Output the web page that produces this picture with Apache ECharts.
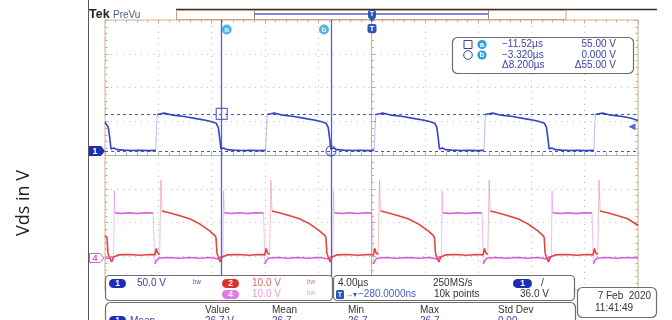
<!DOCTYPE html>
<html>
<head>
<meta charset="utf-8">
<script src="https://cdn.jsdelivr.net/npm/echarts@6/dist/echarts.min.js"></script>
<style>
  html, body { margin: 0; padding: 0; background: #fff; }
  #chart { width: 672px; height: 320px; }
</style>
</head>
<body>
<div id="chart"></div>
<script>
// time in µs from screen centre (4 µs/div), volts per channel
// null = fast edge (drawn faint, like the scope does)
const ch1Trace = [
  [-20.0, 42.5], [-19.85, 41], [-19.75, 35], [-19.65, 20], [-19.55, 3], [-19.35, 4.5], [-19.1, 2], [-18.6, 1.2], [-17.95, 0.6], [-17.35, 1.1], [-16.75, 0.5], [-16.2, 0.9],
  null,
  [-16.08, 54], [-16.0, 56.5], [-15.8, 55], [-15.55, 56], [-15.05, 53.5], [-14.05, 51], [-13.05, 47.5], [-12.45, 45.5], [-12.05, 43.5], [-11.65, 41], [-11.5, 35], [-11.4, 20], [-11.3, 3], [-11.1, 4.5], [-10.85, 2], [-10.35, 1.2], [-9.7, 0.6], [-9.1, 1.1], [-8.5, 0.5], [-7.95, 0.9],
  null,
  [-7.83, 54], [-7.75, 56.5], [-7.55, 55], [-7.3, 56], [-6.8, 53.5], [-5.8, 51], [-4.8, 47.5], [-4.2, 45.5], [-3.8, 43.5], [-3.4, 41], [-3.25, 35], [-3.15, 20], [-3.05, 3], [-2.85, 4.5], [-2.6, 2], [-2.1, 1.2], [-1.45, 0.6], [-0.85, 1.1], [-0.25, 0.5], [0.2, 0.9],
  null,
  [0.32, 54], [0.4, 56.5], [0.6, 55], [0.85, 56], [1.35, 53.5], [2.35, 51], [3.35, 47.5], [3.95, 45.5], [4.35, 43.5], [4.75, 41], [4.9, 35], [5.0, 20], [5.1, 3], [5.3, 4.5], [5.55, 2], [6.05, 1.2], [6.7, 0.6], [7.3, 1.1], [7.9, 0.5], [8.43, 0.9],
  null,
  [8.55, 54], [8.63, 56.5], [8.83, 55], [9.08, 56], [9.58, 53.5], [10.58, 51], [11.58, 47.5], [12.18, 45.5], [12.58, 43.5], [12.98, 41], [13.13, 35], [13.23, 20], [13.33, 3], [13.53, 4.5], [13.78, 2], [14.28, 1.2], [14.9, 0.6], [15.5, 1.1], [16.1, 0.5], [16.68, 0.9],
  null,
  [16.8, 54], [16.88, 56.5], [17.08, 55], [17.33, 56], [17.83, 53.5], [18.83, 51], [19.5, 48.5], [20.0, 45]
];

const ch2Trace = [
  [-20.0, 6.6], [-19.85, 6.0], [-19.78, 1.5], [-19.7, 0.5], [-19.5, -1.2], [-19.35, 0.3], [-19.0, 0.9], [-18.2, 1.0], [-17.4, 0.8], [-16.6, 1.0], [-16.25, 0.9], [-16.15, 2.8], [-16.05, 1.5], [-15.9, 1.0],
  null, [-15.8, 23], null,
  [-15.72, 13.9], [-15.18, 13.4], [-14.44, 12.6], [-13.65, 11.6], [-12.9, 10.1], [-12.17, 8.1], [-11.75, 6.6], [-11.67, 6.0], [-11.6, 1.5], [-11.52, 0.5], [-11.35, -1.2], [-11.2, 0.3], [-10.85, 0.9], [-10.0, 1.0], [-9.2, 0.8], [-8.4, 1.0], [-8.0, 0.9], [-7.9, 2.8], [-7.8, 1.5], [-7.65, 1.0],
  null, [-7.55, 23], null,
  [-7.47, 13.9], [-6.93, 13.4], [-6.19, 12.6], [-5.4, 11.6], [-4.65, 10.1], [-3.92, 8.1], [-3.5, 6.6], [-3.42, 6.0], [-3.35, 1.5], [-3.27, 0.5], [-3.1, -1.2], [-2.95, 0.3], [-2.6, 0.9], [-1.8, 1.0], [-1.0, 0.8], [-0.2, 1.0], [0.15, 0.9], [0.25, 2.8], [0.35, 1.5], [0.5, 1.0],
  null, [0.6, 23], null,
  [0.68, 13.9], [1.22, 13.4], [1.96, 12.6], [2.75, 11.6], [3.5, 10.1], [4.23, 8.1], [4.65, 6.6], [4.73, 6.0], [4.8, 1.5], [4.88, 0.5], [5.05, -1.2], [5.2, 0.3], [5.55, 0.9], [6.35, 1.0], [7.15, 0.8], [7.95, 1.0], [8.38, 0.9], [8.48, 2.8], [8.58, 1.5], [8.73, 1.0],
  null, [8.83, 23], null,
  [8.91, 13.9], [9.45, 13.4], [10.19, 12.6], [10.98, 11.6], [11.73, 10.1], [12.46, 8.1], [12.88, 6.6], [12.96, 6.0], [13.03, 1.5], [13.11, 0.5], [13.28, -1.2], [13.43, 0.3], [13.78, 0.9], [14.6, 1.0], [15.4, 0.8], [16.2, 1.0], [16.63, 0.9], [16.73, 2.8], [16.83, 1.5], [16.98, 1.0],
  null, [17.08, 23], null,
  [17.16, 13.9], [17.7, 13.4], [18.44, 12.6], [19.23, 11.6], [20.0, 9.6]
];

const ch4Trace = [
  [-20.0, 0.0], [-19.7, -0.2], [-19.5, 0.4], [-19.35, 0.1],
  null, [-19.3, 19.9], null,
  [-19.25, 13.4], [-18.8, 13.2], [-18.2, 13.4], [-17.6, 13.2], [-17.0, 13.4], [-16.4, 13.3],
  null,
  [-16.25, -1.8], [-16.15, -0.8], [-16.0, -0.1], [-15.3, 0.1], [-14.5, -0.1], [-13.7, 0.1], [-12.9, -0.1], [-12.1, 0.1], [-11.45, -0.3], [-11.3, 0.4], [-11.15, 0.1],
  null, [-11.1, 19.9], null,
  [-11.05, 13.4], [-10.5, 13.2], [-9.9, 13.4], [-9.3, 13.2], [-8.7, 13.4], [-8.1, 13.3],
  null,
  [-8.0, -1.8], [-7.9, -0.8], [-7.75, -0.1], [-7.1, 0.1], [-6.3, -0.1], [-5.5, 0.1], [-4.7, -0.1], [-3.9, 0.1], [-3.2, -0.3], [-3.05, 0.4], [-2.9, 0.1],
  null, [-2.85, 19.9], null,
  [-2.8, 13.4], [-2.25, 13.2], [-1.65, 13.4], [-1.05, 13.2], [-0.45, 13.4], [0.05, 13.3],
  null,
  [0.15, -1.8], [0.25, -0.8], [0.4, -0.1], [1.1, 0.1], [1.9, -0.1], [2.7, 0.1], [3.5, -0.1], [4.3, 0.1], [4.95, -0.3], [5.1, 0.4], [5.25, 0.1],
  null, [5.3, 19.9], null,
  [5.35, 13.4], [5.9, 13.2], [6.5, 13.4], [7.1, 13.2], [7.7, 13.4], [8.3, 13.3],
  null,
  [8.4, -1.8], [8.5, -0.8], [8.65, -0.1], [9.3, 0.1], [10.1, -0.1], [10.9, 0.1], [11.7, -0.1], [12.5, 0.1], [13.2, -0.3], [13.35, 0.4], [13.5, 0.1],
  null, [13.55, 19.9], null,
  [13.6, 13.4], [14.15, 13.2], [14.75, 13.4], [15.35, 13.2], [15.95, 13.4], [16.55, 13.3],
  null,
  [16.65, -1.8], [16.75, -0.8], [16.9, -0.1], [17.6, 0.1], [18.4, -0.1], [19.2, 0.1], [20.0, 0.0]
];

// cursors (readout time, volts) and trigger
const cursorNames = ['a', 'b'];
const cursorTimes = [-11.52, -3.32];
const cursorVolts = [55.0, 0.0];
const horizPosUs = 0.28;      // screen centre vs trigger
const trigLevel = 36.0;

// vertical settings: volts/div and position (div)
const ch1Scale = 50, ch1Pos = 0.12;
const ch24Scale = 10, ch24Pos = -3.05;

const chLabels = ['50.0 V', '10.0 V', '10.0 V'];
const acqLabels = ['4.00µs', '250MS/s', '−280.0000ns', '10k points', trigLevel.toFixed(1) + ' V'];
const dateLabels = ['7 Feb  2020', '11:41:49'];
const measHeaders = ['Value', 'Mean', 'Min', 'Max', 'Std Dev'];
const measRow = ['26.7 V', '26.7', '26.7', '26.7', '0.00'];

function toLine(arr) {
  const out = [];
  arr.forEach((p, i) => {
    out.push(p === null ? [arr[i - 1][0], '-'] : p);
  });
  return out;
}
// fast edges: join the points on both sides of each break
function edges(arr) {
  const out = [];
  arr.forEach((p, i) => {
    if (p === null && arr[i - 1] && arr[i + 1]) {
      out.push(arr[i - 1], arr[i + 1], [arr[i + 1][0], '-']);
    }
  });
  return out;
}

const cursorX = cursorTimes.map(t => t + horizPosUs);
const fmtT = (t, d) => (t < 0 ? '−' : '') + Math.abs(t).toFixed(d) + 'µs';

const chart = echarts.init(document.getElementById('chart'));

const FONT = '"Liberation Sans", Arial, sans-serif';
const TXT = '#3b3fa6';
const BORDER = '#c9ab90';
const GRIDC = '#c2c2c2';
const CENTER = '#b3b3b3';

function text(x, y, s, fill, size, align, weight) {
  return {
    type: 'text', x: x, y: y, z: 60,
    style: {
      text: s, fill: fill || '#333',
      font: (weight || 'normal') + ' ' + (size || 10) + 'px ' + FONT,
      textAlign: align || 'left', align: align || 'left',
      textVerticalAlign: 'middle', verticalAlign: 'middle'
    }
  };
}
function box(x, y, w, h, r) {
  return {
    type: 'rect', z: 55,
    shape: { x: x, y: y, width: w, height: h, r: r || 4 },
    style: { fill: '#fff', stroke: '#6e6e6e', lineWidth: 1.2 }
  };
}
function pill(x, y, w, label, fill) {
  return [
    { type: 'rect', z: 58, shape: { x: x, y: y, width: w, height: 9, r: 4.5 }, style: { fill: fill } },
    text(x + w / 2, y + 4.7, label, '#fff', 8.5, 'center', 'bold')
  ];
}
function line(x1, y1, x2, y2, stroke, w) {
  return { type: 'line', z: 50, shape: { x1: x1, y1: y1, x2: x2, y2: y2 }, style: { stroke: stroke, lineWidth: w || 1 } };
}

const graphics = [].concat(
  // frame of the screenshot
  line(88.5, 0, 88.5, 320, '#5a5a5a', 1),
  line(176, 9.5, 657, 9.5, '#3b2c25', 1.5),
  { type: 'rect', z: 50, shape: { x: 176.5, y: 10.5, width: 389.5, height: 9 }, style: { fill: 'none', stroke: '#c9a27e', lineWidth: 1 } },
  line(254, 14, 489, 14, '#5866c8', 1.5),
  line(254.5, 10.5, 254.5, 19, '#8a8a8a', 1),
  line(488.5, 10.5, 488.5, 19, '#8a8a8a', 1),
  text(89, 15, 'Tek', '#1e1e1e', 12.5, 'left', 'bold'),
  text(113, 15, 'PreVu', '#4b5a86', 10),
  // trigger position markers
  { type: 'rect', z: 58, shape: { x: 368, y: 10, width: 8, height: 8, r: 2 }, style: { fill: '#2d55b5' } },
  { type: 'polygon', z: 58, shape: { points: [[368, 17], [376, 17], [372, 22]] }, style: { fill: '#2d55b5' } },
  text(372, 14, 'T', '#fff', 7, 'center', 'bold'),
  { type: 'rect', z: 58, shape: { x: 367.5, y: 24, width: 9, height: 9, r: 2 }, style: { fill: '#2d55b5' } },
  text(372, 28.7, 'T', '#fff', 8, 'center', 'bold'),
  // ground markers
  { type: 'polygon', z: 58, shape: { points: [[89, 146], [101, 146], [105, 151], [101, 156], [89, 156]] }, style: { fill: '#1f2fa8' } },
  text(95, 151.3, '1', '#fff', 9, 'center', 'bold'),
  { type: 'polygon', z: 58, shape: { points: [[89.5, 253.5], [100, 253.5], [104, 258], [100, 262.5], [89.5, 262.5]] }, style: { fill: '#fff', stroke: '#d25fd2', lineWidth: 1 } },
  text(95, 258.3, '4', '#d25fd2', 9, 'center', 'bold'),
  // y axis title
  {
    type: 'text', x: 24, y: 203, rotation: Math.PI / 2, z: 60,
    style: {
      text: 'Vds in V', fill: '#222', font: '18px "Open Sans", sans-serif',
      textAlign: 'center', align: 'center', textVerticalAlign: 'middle', verticalAlign: 'middle'
    }
  },
  // cursor readout
  box(452.5, 37.5, 181, 36, 5),
  { type: 'rect', z: 58, shape: { x: 464, y: 40.5, width: 8, height: 8 }, style: { fill: 'none', stroke: TXT, lineWidth: 1 } },
  { type: 'circle', z: 58, shape: { cx: 482, cy: 44.5, r: 4.6 }, style: { fill: '#27a3dc' } },
  text(482, 44.7, 'a', '#fff', 8, 'center', 'bold'),
  { type: 'circle', z: 58, shape: { cx: 468, cy: 55, r: 4.3 }, style: { fill: 'none', stroke: TXT, lineWidth: 1 } },
  { type: 'circle', z: 58, shape: { cx: 482, cy: 55, r: 4.6 }, style: { fill: '#27a3dc' } },
  text(482, 55.2, 'b', '#fff', 8, 'center', 'bold'),
  text(502, 44.5, fmtT(cursorTimes[0], 2), TXT, 10),
  text(502, 55, fmtT(cursorTimes[1], 3), TXT, 10),
  text(502, 65, 'Δ' + fmtT(cursorTimes[1] - cursorTimes[0], 3), TXT, 10),
  text(616, 44.5, cursorVolts[0].toFixed(2) + ' V', TXT, 10, 'right'),
  text(616, 55, cursorVolts[1].toFixed(3) + ' V', TXT, 10, 'right'),
  text(616, 65, 'Δ' + Math.abs(cursorVolts[0] - cursorVolts[1]).toFixed(2) + ' V', TXT, 10, 'right'),
  // channel readout
  box(105.5, 275.5, 227, 25, 4),
  pill(109, 279, 17, '1', '#1a2fb5'),
  text(137, 283.5, chLabels[0], TXT, 10),
  text(193, 283.5, 'ᵇʷ', '#4a55b8', 9),
  pill(222, 279, 17, '2', '#e0302a'),
  text(252, 283.5, chLabels[1], '#e06a66', 10),
  text(307, 283.5, 'ᵇʷ', '#e07070', 9),
  pill(222, 290, 17, '4', '#e27ae2'),
  text(252, 294.5, chLabels[2], '#e49ae4', 10),
  text(307, 294.5, 'ᵇʷ', '#e49ae4', 9),
  // acquisition readout
  box(333.5, 275.5, 241, 25, 4),
  text(338, 283.5, acqLabels[0], '#333', 10),
  text(433, 283.5, acqLabels[1], '#333', 10),
  pill(513, 279, 19, '1', '#1a2fb5'),
  text(541, 283.5, '/', '#333', 10),
  { type: 'rect', z: 58, shape: { x: 336, y: 290, width: 8, height: 9, r: 1.5 }, style: { fill: '#2d55b5' } },
  text(340, 294.7, 'T', '#fff', 7, 'center', 'bold'),
  text(345, 294.5, '→▾', '#2d55b5', 8),
  text(358, 294.5, acqLabels[2], '#4a5ec8', 10),
  text(434, 294.5, acqLabels[3], '#333', 10),
  text(520, 294.5, acqLabels[4], '#333', 10),
  // date
  box(577.5, 287.5, 79, 30, 5),
  text(651, 296.5, dateLabels[0], '#333', 10, 'right'),
  text(595, 308.5, dateLabels[1], '#333', 10),
  // measurements
  box(105.5, 302.5, 470, 30, 5),
  text(205, 310.5, measHeaders[0], '#333', 10),
  text(272, 310.5, measHeaders[1], '#333', 10),
  text(348, 310.5, measHeaders[2], '#333', 10),
  text(420, 310.5, measHeaders[3], '#333', 10),
  text(498, 310.5, measHeaders[4], '#333', 10),
  pill(109, 316, 17, '1', '#1a2fb5'),
  text(130, 321, 'Mean', TXT, 10),
  text(205, 321, measRow[0], TXT, 10),
  text(272, 321, measRow[1], TXT, 10),
  text(348, 321, measRow[2], TXT, 10),
  text(420, 321, measRow[3], TXT, 10),
  text(498, 321, measRow[4], TXT, 10)
);

const tickAxis = {
  axisLabel: { show: false },
  axisTick: { show: true, inside: true, length: 3.5, lineStyle: { color: BORDER } },
  minorTick: { show: true, splitNumber: 5, length: 2.5, lineStyle: { color: BORDER } },
  splitLine: { show: false }
};

chart.setOption({
  animation: false,
  backgroundColor: '#fff',
  grid: { left: 105, top: 20, width: 533, height: 270, show: true, borderColor: '#d6b190', borderWidth: 1, backgroundColor: '#fff' },
  xAxis: [
    {
      type: 'value', min: -20, max: 20, interval: 4,
      axisLine: { show: true, onZero: true, onZeroAxisIndex: 0, lineStyle: { color: CENTER, width: 1 } },
      axisTick: { show: true, inside: true, length: 3.5, lineStyle: { color: CENTER } },
      minorTick: { show: true, splitNumber: 5, length: 2.5, lineStyle: { color: CENTER } },
      axisLabel: { show: false },
      splitLine: { show: true, lineStyle: { color: GRIDC, type: [1, 5] } }
    },
    Object.assign({ type: 'value', min: -20, max: 20, interval: 4, position: 'top', axisLine: { show: false, onZero: false } }, tickAxis)
  ],
  yAxis: [
    {
      type: 'value', min: -4, max: 4, interval: 1,
      axisLine: { show: true, onZero: true, onZeroAxisIndex: 0, lineStyle: { color: CENTER, width: 1 } },
      axisTick: { show: true, inside: true, length: 3.5, lineStyle: { color: CENTER } },
      minorTick: { show: true, splitNumber: 5, length: 2.5, lineStyle: { color: CENTER } },
      axisLabel: { show: false },
      splitLine: { show: true, lineStyle: { color: GRIDC, type: [1, 5] } }
    },
    { type: 'value', show: false, min: (-4 - ch1Pos) * ch1Scale, max: (4 - ch1Pos) * ch1Scale },
    { type: 'value', show: false, min: (-4 - ch24Pos) * ch24Scale, max: (4 - ch24Pos) * ch24Scale },
    Object.assign({ type: 'value', min: -4, max: 4, interval: 1, position: 'right', axisLine: { show: false, onZero: false } }, tickAxis),
    Object.assign({ type: 'value', min: -4, max: 4, interval: 1, position: 'left', axisLine: { show: false, onZero: false } }, tickAxis)
  ],
  graphic: { elements: graphics },
  series: [
    { type: 'line', name: 'ch4 edge', yAxisIndex: 2, data: edges(ch4Trace), symbol: 'none', connectNulls: false, lineStyle: { color: '#e070e0', width: 1, opacity: 0.45 }, z: 2 },
    { type: 'line', name: 'ch2 edge', yAxisIndex: 2, data: edges(ch2Trace), symbol: 'none', connectNulls: false, lineStyle: { color: '#e85a60', width: 1, opacity: 0.4 }, z: 2 },
    { type: 'line', name: 'ch1 edge', yAxisIndex: 1, data: edges(ch1Trace), symbol: 'none', connectNulls: false, lineStyle: { color: '#3542c4', width: 1, opacity: 0.35 }, z: 2 },
    { type: 'line', name: 'ch4', yAxisIndex: 2, data: toLine(ch4Trace), symbol: 'none', connectNulls: false, lineStyle: { color: '#d95ad9', width: 1.5 }, z: 3 },
    { type: 'line', name: 'ch2', yAxisIndex: 2, data: toLine(ch2Trace), symbol: 'none', connectNulls: false, lineStyle: { color: '#e0453c', width: 1.6 }, z: 4 },
    {
      type: 'line', name: 'ch1', yAxisIndex: 1, data: toLine(ch1Trace), symbol: 'none', connectNulls: false,
      lineStyle: { color: '#3542c4', width: 1.6 }, z: 5,
      markLine: {
        silent: true, symbol: ['none', 'none'], label: { show: false },
        data: [
          { yAxis: cursorVolts[0], lineStyle: { color: '#4b56c0', width: 1, type: [3, 3] } },
          { yAxis: cursorVolts[1], lineStyle: { color: '#4b56c0', width: 1, type: [3, 3] } },
          { xAxis: cursorX[0], lineStyle: { color: '#5461cf', width: 1.3, type: 'solid' } },
          { xAxis: cursorX[1], lineStyle: { color: '#5461cf', width: 1.3, type: 'solid' } }
        ]
      }
    },
    {
      type: 'scatter', name: 'cursor marks', yAxisIndex: 1, z: 6, symbolSize: 11,
      itemStyle: { color: 'rgba(0,0,0,0)', borderColor: '#3a48b8', borderWidth: 1.2 },
      data: [
        { value: [cursorX[0], cursorVolts[0]], symbol: 'rect' },
        { value: [cursorX[1], cursorVolts[1]], symbol: 'circle', symbolSize: 10 }
      ]
    },
    {
      type: 'scatter', name: 'cursor labels', yAxisIndex: 0, z: 7, symbolSize: 10,
      itemStyle: { color: '#27a3dc' },
      label: { show: true, position: 'inside', formatter: p => p.name, color: '#fff', fontSize: 8, fontWeight: 'bold' },
      data: [
        { name: cursorNames[0], value: [cursorX[0], 3.72], symbolOffset: [5, 0] },
        { name: cursorNames[1], value: [cursorX[1], 3.72], symbolOffset: [-7, 0] }
      ]
    },
    {
      type: 'scatter', name: 'trigger level', yAxisIndex: 1, z: 7,
      symbol: 'triangle', symbolRotate: 90, symbolSize: [7, 7],
      itemStyle: { color: '#2f43c0' },
      data: [[19.55, trigLevel]]
    }
  ]
});
</script>
</body>
</html>
